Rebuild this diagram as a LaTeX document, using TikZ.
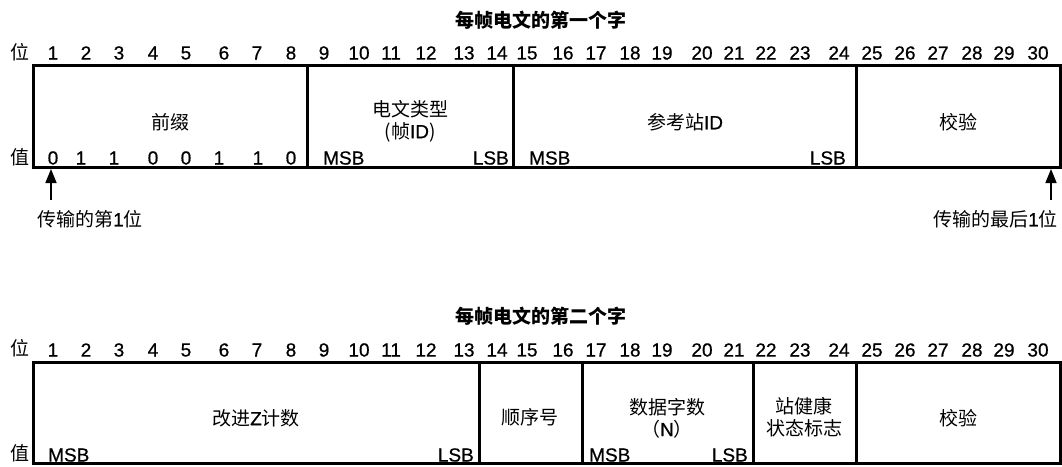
\documentclass[tikz,border=0pt]{standalone}
\usepackage{fontspec}
\setmainfont{Liberation Sans}
\newfontfamily\latinsb[FakeBold=0.7]{Liberation Sans}
\newfontfamily\cjk{Noto Sans CJK SC}
\usetikzlibrary{arrows.meta}
\begin{document}
\begin{tikzpicture}[x=1pt,y=-1pt,
  num/.style={font=\latinsb\fontsize{19}{19}\selectfont, inner sep=0pt, anchor=center},
  sig/.style={font=\latinsb\fontsize{19}{19}\selectfont, inner sep=0pt},
  zh/.style={font=\cjk\fontsize{19}{22}\selectfont, inner sep=0pt, align=center},
  ttl/.style={font=\cjk\bfseries\fontsize{19}{22}\selectfont, inner sep=0pt},
  frame/.style={line width=3pt},
  pointer/.style={line width=1.6pt, -{Triangle[width=11pt,length=14pt]}}
]
\useasboundingbox (0,0) rectangle (1062,466);

% ---------- first word ----------
\node[ttl] (title1) at (541,20) {每帧电文的第一个字};
\node[zh] (wei1) at (20,52) {位};
\node[zh] (zhi1) at (20,157) {值};
\foreach \n/\x in {1/53,2/86,3/119,4/153,5/186,6/224,7/257,8/291,9/324,10/359,
  11/391,12/426,13/464,14/497,15/527,16/563,17/596,18/630,19/662,20/702,
  21/734,22/766,23/800,24/839,25/872,26/905,27/938,28/972,29/1004,30/1038}{
  \node[num] (ta\n) at (\x,53) {\n};
  \node[num] (tb\n) at (\x,350) {\n};
}
\draw[frame] (33,65) rectangle (1060,167);
\draw[frame] (307,65) -- (307,167);
\draw[frame] (513,65) -- (513,167);
\draw[frame] (856,65) -- (856,167);

\node[zh] (prefix) at (170,122) {前缀};
\node[zh] (msgtype) at (410,121) {电文类型\\(帧{\latinsb ID})};
\node[zh] (refid) at (685,122) {参考站{\latinsb ID}};
\node[zh] (parity1) at (958,122) {校验};

\foreach \v/\x [count=\i] in {0/53,1/81,1/114,0/153,0/186,1/219,1/258,0/291}{
  \node[num] (val\i) at (\x,158) {\v};
}
\node[sig, anchor=west] (msbA) at (323,158) {MSB};
\node[sig, anchor=east] (lsbA) at (509,158) {LSB};
\node[sig, anchor=west] (msbB) at (529,158) {MSB};
\node[sig, anchor=east] (lsbB) at (846,158) {LSB};

\coordinate (tipL) at (51,169);
\coordinate (tailL) at (51,200);
\coordinate (tipR) at (1051,169);
\coordinate (tailR) at (1051,200);
\draw[pointer] (tailL) -- (tipL);
\draw[pointer] (tailR) -- (tipR);
\node[zh, anchor=west] (firstbit) at (37,219) {传输的第{\latinsb 1}位};
\node[zh, anchor=east] (lastbit) at (1058,219) {传输的最后{\latinsb 1}位};

% ---------- second word ----------
\node[ttl] (title2) at (541,316) {每帧电文的第二个字};
\node[zh] (wei2) at (20,348) {位};
\node[zh] (zhi2) at (20,453) {值};
\draw[frame] (33,362) rectangle (1060,463);
\draw[frame] (479,362) -- (479,463);
\draw[frame] (582,362) -- (582,463);
\draw[frame] (753,362) -- (753,463);
\draw[frame] (856,362) -- (856,463);

\node[zh] (zcount) at (256,418) {改进{\latinsb Z}计数};
\node[zh] (seq) at (530,417) {顺序号};
\node[zh] (ndata) at (667,418) {数据字数\\（{\latinsb N}）};
\node[zh] (health) at (804,417) {站健康\\状态标志};
\node[zh] (parity2) at (958,418) {校验};

\node[sig, anchor=west] (msbC) at (48,455) {MSB};
\node[sig, anchor=east] (lsbC) at (474,455) {LSB};
\node[sig, anchor=west] (msbD) at (589,455) {MSB};
\node[sig, anchor=east] (lsbD) at (748,455) {LSB};
\end{tikzpicture}
\end{document}
